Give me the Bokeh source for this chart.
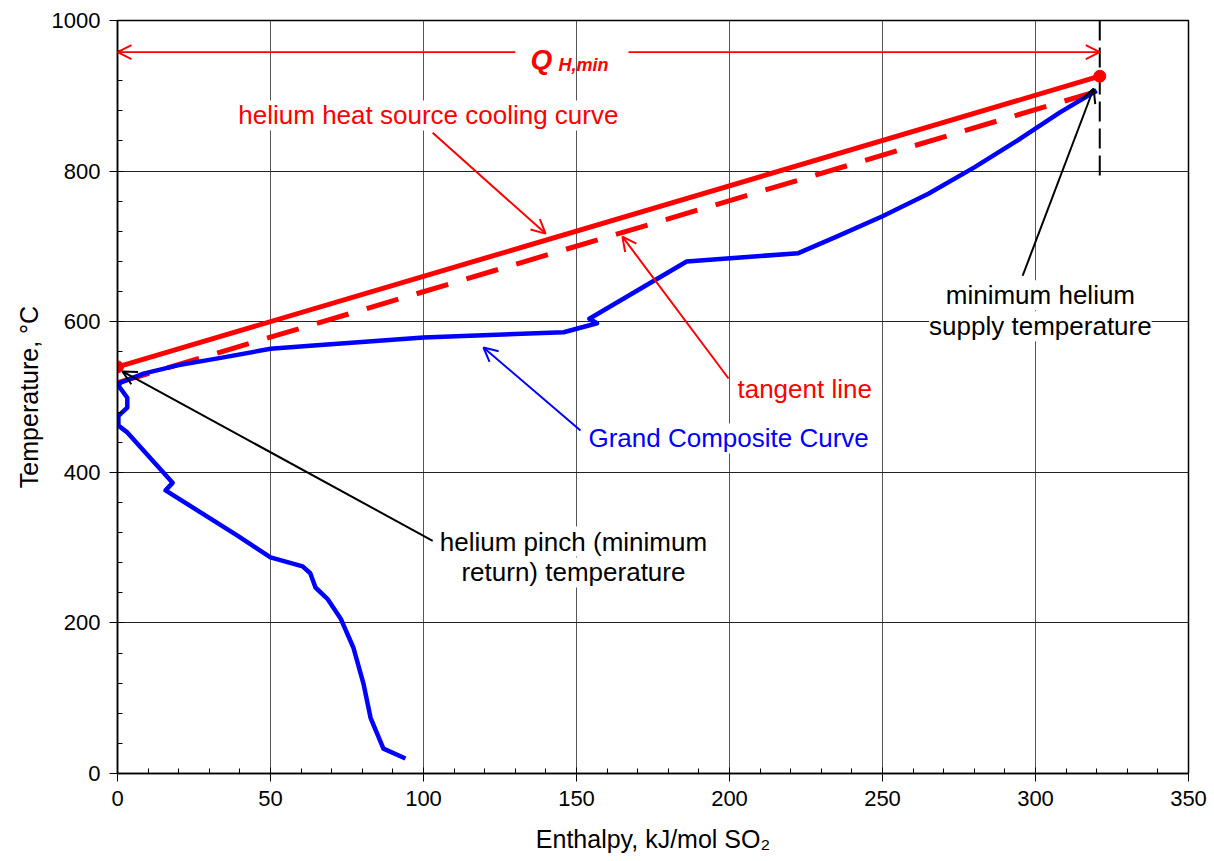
from bokeh.plotting import figure
from bokeh.models import (Range1d, Arrow, OpenHead, Label, SingleIntervalTicker)
from bokeh.embed import file_html
from bokeh.resources import INLINE

# Grand composite curve (enthalpy kJ/mol SO2, temperature degC)
gcc_h = [94.1, 86.9, 82.7, 80.4, 77.1, 72.9, 68.6, 64.7, 63.0, 60.5, 50.0, 44.4,
         39.2, 15.7, 18.0, 3.2, 0.3, 0.3, 3.2, 3.2, 0.3, 1.0, 8.5, 19.6, 33.7,
         50.0, 63.0, 100.0, 145.8, 156.7, 154.2, 186.0, 222.5, 235.0, 250.0,
         265.0, 280.0, 295.0, 308.0, 320.0]
gcc_t = [20, 33, 74, 119, 167, 206, 232, 247, 266, 275, 287, 302,
         316, 376, 386, 453, 462, 475, 486, 499, 515, 519, 531, 542, 552,
         564, 568, 579, 586, 598, 604, 680, 691, 713, 740,
         770, 805, 843, 878, 907]

# helium heat source cooling curve and tangent line
source_h = [0, 321]
source_t = [540, 926]
tangent_h = [0, 321]
tangent_t = [519, 907]

# minimum helium supply enthalpy marker
qmax_h = [321, 321]
qmax_t = [794, 1000]

FONT = "Liberation Sans"
RED = "#ff0000"
BLUE = "#0000ff"

p = figure(width=1214, height=861, x_range=Range1d(0, 350), y_range=Range1d(0, 1000),
           output_backend="svg", toolbar_location=None,
           min_border_left=117, min_border_right=26, min_border_top=20,
           min_border_bottom=88)

p.background_fill_color = "white"
p.outline_line_color = "black"
p.outline_line_width = 1.5

p.xaxis.ticker = SingleIntervalTicker(interval=50, num_minor_ticks=5)
p.yaxis.ticker = SingleIntervalTicker(interval=200, num_minor_ticks=5)
p.xgrid.grid_line_color = "#555555"
p.ygrid.grid_line_color = "#222222"
p.xgrid.grid_line_width = 1
p.ygrid.grid_line_width = 1

for ax in (p.xaxis[0], p.yaxis[0]):
    ax.axis_line_color = "black"
    ax.axis_line_width = 1.5
    ax.major_tick_line_color = "black"
    ax.minor_tick_line_color = "black"
    ax.major_tick_in = 6
    ax.major_tick_out = 8
    ax.minor_tick_in = 5
    ax.minor_tick_out = 0
    ax.major_label_text_font = FONT
    ax.major_label_text_font_size = "22px"
    ax.major_label_text_color = "black"
    ax.major_label_standoff = 9
    ax.axis_label_text_font = FONT
    ax.axis_label_text_font_size = "25px"
    ax.axis_label_text_font_style = "normal"
    ax.axis_label_text_color = "black"

p.xaxis.axis_label = "Enthalpy, kJ/mol SO\u2082"
p.yaxis.axis_label = "Temperature, \u00b0C"
p.xaxis.axis_label_standoff = 16
p.yaxis.axis_label_standoff = 6

# curves
p.line(source_h, source_t, line_color=RED, line_width=5)
p.line(tangent_h, tangent_t, line_color=RED, line_width=5, line_dash="33 19")
p.line(gcc_h, gcc_t, line_color=BLUE, line_width=4.5, line_join="round")
p.line(qmax_h, qmax_t, line_color="black", line_width=2, line_dash="20 7")
p.scatter(source_h, source_t, size=12, color=RED)


def label(x, y, text, color, align="center", size="26px", style="normal",
          baseline="middle", bg="white"):
    p.add_layout(Label(x=x, y=y, text=text, text_color=color, text_font=FONT,
                       text_font_size=size, text_font_style=style,
                       text_align=align, text_baseline=baseline,
                       background_fill_color=bg))


def arrow(x0, y0, x1, y1, color, width=2):
    p.add_layout(Arrow(end=OpenHead(size=14, line_color=color, line_width=width),
                       x_start=x0, y_start=y0, x_end=x1, y_end=y1,
                       line_color=color, line_width=width))


# Q_H,min span arrow
arrow(130, 958, 0, 958, RED, 1.8)
arrow(167, 958, 321, 958, RED, 1.8)
label(135, 948, "Q", RED, align="left", size="28px", style="bold italic",
      baseline="alphabetic", bg=None)
label(144.1, 940.3, "H,min", RED, align="left", size="18px", style="bold italic",
      baseline="alphabetic", bg=None)

# callouts
label(101.6, 874, "helium heat source cooling curve", RED)
arrow(103, 851, 139.9, 717, RED)

label(202.6, 511, "tangent line", RED, align="left")
arrow(199.7, 524.6, 165, 713, RED)

label(153.9, 445, "Grand Composite Curve", BLUE, align="left")
arrow(151.3, 455.5, 119.6, 565.7, BLUE)

label(149, 308, "helium pinch (minimum", "black")
label(149, 267, "return) temperature", "black")
arrow(103, 309, 1.6, 534, "black")

label(301.6, 635, "minimum helium", "black")
label(301.6, 594, "supply temperature", "black")
arrow(295.8, 661, 319, 909.7, "black")

open("out.html", "w").write(file_html(p, INLINE))
